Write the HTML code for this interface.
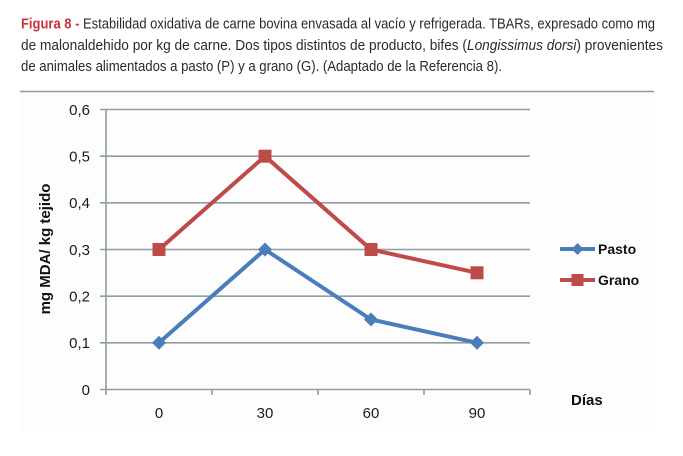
<!DOCTYPE html>
<html>
<head>
<meta charset="utf-8">
<style>
  html,body{margin:0;padding:0;background:#fff;}
  body{width:683px;height:456px;overflow:hidden;}
  svg{display:block;}
</style>
</head>
<body>
<svg width="683" height="456" viewBox="0 0 683 456" xmlns="http://www.w3.org/2000/svg" font-family="'Liberation Sans', sans-serif">
  <!-- Caption -->
  <text x="21" y="28.5" font-size="15" fill="#2a2a2a" textLength="634" lengthAdjust="spacingAndGlyphs"><tspan fill="#c8343c" font-weight="bold">Figura 8 -</tspan> Estabilidad oxidativa de carne bovina envasada al vacío y refrigerada. TBARs, expresado como mg</text>
  <text x="21" y="50" font-size="15" fill="#2a2a2a" textLength="642" lengthAdjust="spacingAndGlyphs">de malonaldehido por kg de carne. Dos tipos distintos de producto, bifes (<tspan font-style="italic">Longissimus dorsi</tspan>) provenientes</text>
  <text x="21" y="71" font-size="15" fill="#2a2a2a" textLength="481" lengthAdjust="spacingAndGlyphs">de animales alimentados a pasto (P) y a grano (G). (Adaptado de la Referencia 8).</text>

  <!-- divider & chart bg -->
  <rect x="20" y="92" width="634" height="340" fill="#fefdfd"/>
  <line x1="20" y1="91.5" x2="654" y2="91.5" stroke="#8a9ba3" stroke-width="1.6"/>

  <!-- gridlines -->
  <g stroke="#8e9ea6" stroke-width="1.6">
    <line x1="100" y1="109.5" x2="530" y2="109.5"/>
    <line x1="100" y1="156.2" x2="530" y2="156.2"/>
    <line x1="100" y1="202.8" x2="530" y2="202.8"/>
    <line x1="100" y1="249.5" x2="530" y2="249.5"/>
    <line x1="100" y1="296.2" x2="530" y2="296.2"/>
    <line x1="100" y1="342.8" x2="530" y2="342.8"/>
    <line x1="100" y1="389.5" x2="530" y2="389.5"/>
    <line x1="106" y1="109.5" x2="106" y2="395"/>
    <line x1="212" y1="389.5" x2="212" y2="395"/>
    <line x1="318" y1="389.5" x2="318" y2="395"/>
    <line x1="424" y1="389.5" x2="424" y2="395"/>
    <line x1="530" y1="389.5" x2="530" y2="395"/>
  </g>

  <!-- y tick labels -->
  <g font-size="15" fill="#1a1a1a" text-anchor="end">
    <text x="90" y="115">0,6</text>
    <text x="90" y="161.5">0,5</text>
    <text x="90" y="208">0,4</text>
    <text x="90" y="255">0,3</text>
    <text x="90" y="301.5">0,2</text>
    <text x="90" y="348">0,1</text>
    <text x="90" y="395">0</text>
  </g>
  <!-- x tick labels -->
  <g font-size="15" fill="#1a1a1a" text-anchor="middle">
    <text x="159" y="418">0</text>
    <text x="265" y="418">30</text>
    <text x="371" y="418">60</text>
    <text x="477" y="418">90</text>
  </g>
  <text x="571" y="405" font-size="15" font-weight="bold" fill="#111">Días</text>
  <text transform="translate(50,249) rotate(-90)" text-anchor="middle" font-size="15" font-weight="bold" fill="#111">mg MDA/ kg tejido</text>

  <!-- Grano series -->
  <polyline points="159,249.5 265,156.2 371,249.5 477,272.8" fill="none" stroke="#be4b48" stroke-width="4" stroke-linejoin="miter"/>
  <g fill="#be4b48">
    <rect x="152.5" y="243" width="13" height="13"/>
    <rect x="258.5" y="149.7" width="13" height="13"/>
    <rect x="364.5" y="243" width="13" height="13"/>
    <rect x="470.5" y="266.3" width="13" height="13"/>
  </g>

  <!-- Pasto series -->
  <polyline points="159,342.8 265,249.5 371,319.5 477,342.8" fill="none" stroke="#4a7ebb" stroke-width="4" stroke-linejoin="miter"/>
  <g fill="#4a7ebb">
    <polygon points="159,335.8 166,342.8 159,349.8 152,342.8"/>
    <polygon points="265,242.5 272,249.5 265,256.5 258,249.5"/>
    <polygon points="371,312.5 378,319.5 371,326.5 364,319.5"/>
    <polygon points="477,335.8 484,342.8 477,349.8 470,342.8"/>
  </g>

  <!-- Legend -->
  <line x1="560" y1="249" x2="595" y2="249" stroke="#4a7ebb" stroke-width="4"/>
  <polygon points="577.5,243 583.5,249 577.5,255 571.5,249" fill="#4a7ebb"/>
  <text x="598" y="254" font-size="14" font-weight="bold" fill="#111">Pasto</text>
  <line x1="560" y1="280" x2="595" y2="280" stroke="#be4b48" stroke-width="4"/>
  <rect x="571.5" y="274" width="12" height="12" fill="#be4b48"/>
  <text x="598" y="285" font-size="14" font-weight="bold" fill="#111">Grano</text>
</svg>
</body>
</html>
